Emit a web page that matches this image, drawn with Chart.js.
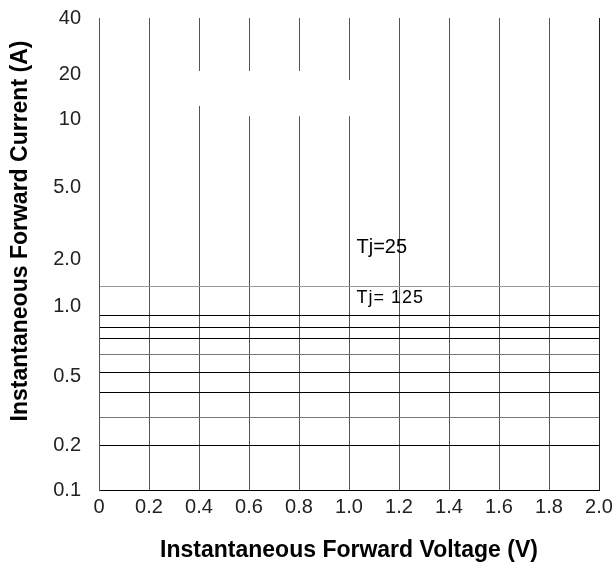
<!DOCTYPE html>
<html>
<head>
<meta charset="utf-8">
<script src="https://cdn.jsdelivr.net/npm/chart.js@4.4.1/dist/chart.umd.min.js"></script>
<style>
	html, body { margin: 0; padding: 0; background: #fff; }
	#wrap { width: 614px; height: 572px; }
</style>
</head>
<body>
<div id="wrap"><canvas id="chart"></canvas></div>
<script>
// Trục X
var xTicks = [0, 0.2, 0.4, 0.6, 0.8, 1.0, 1.2, 1.4, 1.6, 1.8, 2.0]
var xTickLabels = ['0', '0.2', '0.4', '0.6', '0.8', '1.0', '1.2', '1.4', '1.6', '1.8', '2.0']

// Trục Y (log) - vị trí nhãn
var yTickPos = [0.1, 0.176, 0.4225, 1.027, 1.866, 4.65, 11.03, 19.41, 40]
var yTickLabels = ['0.1', '0.2', '0.5', '1.0', '2.0', '5.0', '10', '20', '40']

// Các đường ngang
var yGridLines = [0.176, 0.252, 0.344, 0.446, 0.562, 0.680, 0.789, 0.922, 1.321]
var yGridGray = [0.252, 0.562]
var yGridLight = [1.321]

// Khoảng trống trên các đường dọc
var gapX = [0.4, 0.6, 0.8, 1.0]
var gapLow = [13.1, 11.5, 11.5, 11.5]
var gapHigh = [20.4, 20.4, 20.4, 18.2]

// Chú thích
var noteText = ['Tj=25', 'Tj= 125']
var noteX = [1.03, 1.03]
var noteY = [2.186, 1.145]

var narrow = "'Liberation Sans Narrow', 'Arial Narrow', 'Liberation Sans', sans-serif"
var sans = "'Liberation Sans', Arial, sans-serif"

var extras = {
	id: 'extras',
	beforeDatasetsDraw: function(chart) {
		var ctx = chart.ctx
		var xs = chart.scales.x
		var ys = chart.scales.y
		ctx.save()
		//Xóa đoạn đường dọc
		ctx.fillStyle = '#fff'
		gapX.forEach(function(gx, i) {
			var px = xs.getPixelForValue(gx)
			var top = ys.getPixelForValue(gapHigh[i])
			var bot = ys.getPixelForValue(gapLow[i])
			ctx.fillRect(px - 2, top, 4, bot - top)
		})
		//Chú thích Tj
		ctx.fillStyle = '#000'
		ctx.textAlign = 'left'
		ctx.textBaseline = 'middle'
		noteText.forEach(function(t, i) {
			ctx.font = (i == 0 ? '20px ' : '18px ') + sans
			ctx.letterSpacing = i == 0 ? '0px' : '1px'
			ctx.fillText(t, xs.getPixelForValue(noteX[i]), ys.getPixelForValue(noteY[i]))
		})
		ctx.letterSpacing = '0px'
		//Tiêu đề trục Y
		ctx.translate(21, 231)
		ctx.rotate(-Math.PI / 2)
		ctx.textAlign = 'center'
		ctx.font = 'bold 23px ' + sans
		ctx.fillText('Instantaneous Forward Current (A)', 0, 0)
		ctx.restore()
	}
}

var ctx = document.getElementById('chart').getContext('2d')
var chart = new Chart(ctx, {
	type: 'scatter',
	data: { datasets: [] },
	plugins: [extras],
	options: {
		responsive: true,
		maintainAspectRatio: false,
		animation: false,
		layout: { padding: { top: 18, right: 15, left: 0, bottom: 0 } },
		plugins: { legend: { display: false }, tooltip: { enabled: false } },
		scales: {
			x: {
				type: 'linear',
				min: 0,
				max: 2,
				afterBuildTicks: function(scale) {
					scale.ticks = xTicks.map(function(v) { return { value: v } })
				},
				afterFit: function(scale) {
					scale.height = 82
					scale.paddingLeft = 0
					scale.paddingRight = 0
				},
				grid: {
					drawTicks: false,
					color: function(c) { return c.tick && c.tick.value == 2 ? '#222' : '#555' },
					lineWidth: 1
				},
				border: { color: '#000', width: 1 },
				ticks: {
					padding: 5,
					color: '#222',
					font: { family: narrow, size: 20 },
					maxRotation: 0,
					autoSkip: false,
					callback: function(v, i) { return xTickLabels[i] }
				},
				title: {
					display: true,
					text: 'Instantaneous Forward Voltage (V)',
					color: '#000',
					font: { family: sans, size: 23, weight: 'bold' },
					padding: { top: 0, bottom: 8 }
				}
			},
			y: {
				type: 'logarithmic',
				min: 0.1,
				max: 40,
				afterBuildTicks: function(scale) {
					var all = yTickPos.concat(yGridLines).filter(function(v, i, a) { return a.indexOf(v) == i })
					all.sort(function(a, b) { return a - b })
					scale.ticks = all.map(function(v) { return { value: v } })
				},
				afterFit: function(scale) {
					scale.width = 99
					scale.paddingTop = 0
					scale.paddingBottom = 0
				},
				grid: {
					drawTicks: false,
					color: function(c) {
						var v = c.tick ? c.tick.value : null
						if (yGridLines.indexOf(v) < 0) return 'rgba(0,0,0,0)'
						if (yGridLight.indexOf(v) >= 0) return '#999'
						if (yGridGray.indexOf(v) >= 0) return '#777'
						return '#000'
					},
					lineWidth: 1
				},
				border: { color: '#555', width: 1 },
				ticks: {
					padding: 18,
					color: '#222',
					font: { family: narrow, size: 20 },
					autoSkip: false,
					callback: function(v) {
						var i = yTickPos.indexOf(v)
						return i >= 0 ? yTickLabels[i] : ''
					}
				}
			}
		}
	}
})
</script>
</body>
</html>
